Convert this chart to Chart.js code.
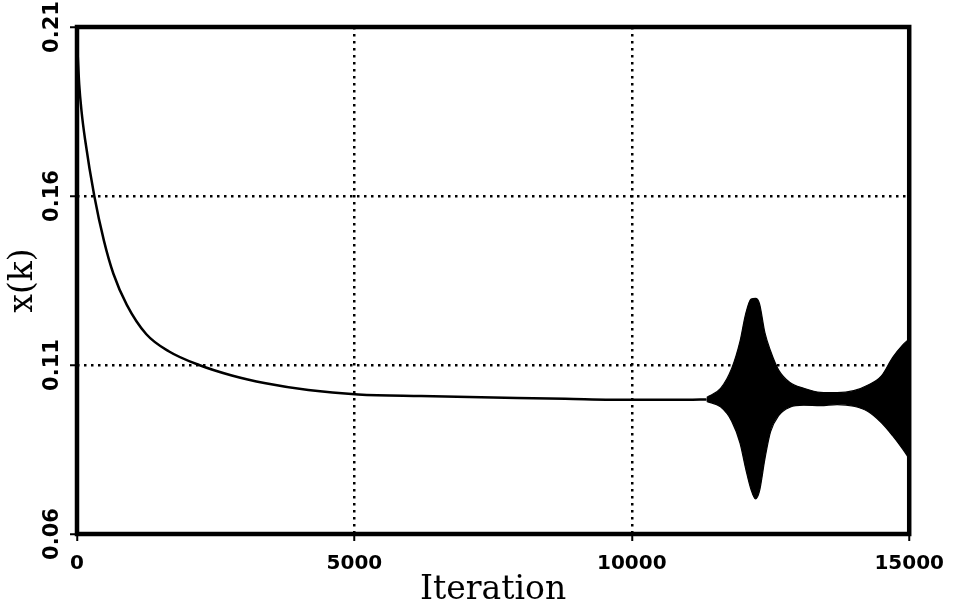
<!DOCTYPE html>
<html>
<head>
<meta charset="utf-8">
<script src="https://cdn.jsdelivr.net/npm/chart.js@4/dist/chart.umd.min.js"></script>
<style>
html, body { margin: 0; padding: 0; background: #ffffff; }
canvas { display: block; }
</style>
</head>
<body>
<canvas id="c" width="955" height="607"></canvas>
<script>
// ---- data ----
const mainIter = [0, 40, 81, 145, 312, 485, 656, 898, 1250, 1660, 2200, 2790, 3400, 4170, 5070, 6200, 7500, 8800, 10000, 11000, 11350];
const mainX    = [0.206, 0.193, 0.1852, 0.1768, 0.1600, 0.1468, 0.1370, 0.1278, 0.1191, 0.114, 0.110, 0.1069, 0.1046, 0.1026, 0.1013, 0.1008, 0.1004, 0.1000, 0.0997, 0.0997, 0.0998];

const envIter  = [11350, 11600, 11800, 11950, 12050, 12150, 12230, 12300, 12400, 12500, 12650, 12850, 13100, 13400, 13700, 14000, 14250, 14500, 14700, 14880, 15000];
const envUpper = [0.1004, 0.1031, 0.1090, 0.1170, 0.1250, 0.1295, 0.1297, 0.1282, 0.1195, 0.1142, 0.1084, 0.1048, 0.1031, 0.1019, 0.1018, 0.1024, 0.1040, 0.1068, 0.1122, 0.1159, 0.1177];
const envLower = [0.0992, 0.0976, 0.0934, 0.0869, 0.0795, 0.0731, 0.0704, 0.0726, 0.0823, 0.0902, 0.0951, 0.0975, 0.0981, 0.0980, 0.0983, 0.0978, 0.0963, 0.0929, 0.0891, 0.0852, 0.0823];

const xTicks = [0, 5000, 10000, 15000];
const yTicks = [0.06, 0.11, 0.16, 0.21];
const xTitle = 'Iteration';
const yTitle = 'x(k)';

// ---- chart ----
const framePlugin = {
  id: 'frame',
  afterDatasetsDraw(chart) {
    const { ctx, chartArea: a } = chart;
    ctx.save();
    ctx.lineWidth = 4.5;
    ctx.strokeStyle = '#000';
    ctx.strokeRect(a.left, a.top, a.right - a.left, a.bottom - a.top);
    ctx.restore();
  }
};

const gridColor = (n) => (c) => (c.index > 0 && c.index < n - 1) ? '#000' : 'rgba(0,0,0,0)';

new Chart(document.getElementById('c'), {
  type: 'line',
  data: {
    datasets: [
      {
        label: 'x(k)',
        data: mainIter.map((k, i) => ({ x: k, y: mainX[i] })),
        borderColor: '#000', borderWidth: 2.5, pointRadius: 0,
        cubicInterpolationMode: 'monotone', fill: false
      },
      {
        label: 'upper',
        data: envIter.map((k, i) => ({ x: k, y: envUpper[i] })),
        borderColor: '#000', borderWidth: 1.2, pointRadius: 0,
        cubicInterpolationMode: 'monotone', fill: '+1', backgroundColor: '#000'
      },
      {
        label: 'lower',
        data: envIter.map((k, i) => ({ x: k, y: envLower[i] })),
        borderColor: '#000', borderWidth: 1.2, pointRadius: 0,
        cubicInterpolationMode: 'monotone', fill: false
      }
    ]
  },
  options: {
    responsive: false,
    animation: false,
    devicePixelRatio: 1,
    layout: { padding: { top: 27, right: 43, left: 0, bottom: 0 } },
    plugins: { legend: { display: false }, tooltip: { enabled: false } },
    scales: {
      x: {
        type: 'linear', min: 0, max: 15000,
        afterBuildTicks: (s) => { s.ticks = xTicks.map(v => ({ value: v })); },
        afterFit: (s) => { s.height = 73; },
        ticks: {
          autoSkip: false, minRotation: 0, maxRotation: 0, padding: 11, color: '#000',
          font: { family: 'DejaVu Sans', weight: 'bold', size: 20 },
          callback: (v) => String(v)
        },
        grid: {
          color: gridColor(xTicks.length), lineWidth: 2.5, borderDash: [2.5, 4.5],
          drawTicks: true, tickLength: 7, tickColor: '#000', tickWidth: 2, tickBorderDash: []
        },
        border: { display: false, dash: [2.5, 4.5] },
        title: {
          display: true, text: xTitle, color: '#000',
          font: { family: 'DejaVu Serif', size: 33, lineHeight: 1.2 },
          padding: { top: 0, bottom: -3 }
        }
      },
      y: {
        type: 'linear', min: 0.06, max: 0.21,
        afterBuildTicks: (s) => { s.ticks = yTicks.map(v => ({ value: v })); },
        afterFit: (s) => { s.width = 77; },
        ticks: {
          autoSkip: false, minRotation: 90, maxRotation: 90, crossAlign: 'center', padding: -8,
          color: '#000', font: { family: 'DejaVu Sans', weight: 'bold', size: 21 },
          callback: (v) => Number(v).toFixed(2)
        },
        grid: {
          color: gridColor(yTicks.length), lineWidth: 2.5, borderDash: [2.5, 4.5],
          drawTicks: true, tickLength: 7, tickColor: '#000', tickWidth: 2, tickBorderDash: []
        },
        border: { display: false, dash: [2.5, 4.5] },
        title: {
          display: true, text: yTitle, color: '#000',
          font: { family: 'DejaVu Serif', size: 33, lineHeight: 1.2 },
          padding: { top: 4, bottom: 0 }
        }
      }
    }
  },
  plugins: [framePlugin]
});
</script>
</body>
</html>
